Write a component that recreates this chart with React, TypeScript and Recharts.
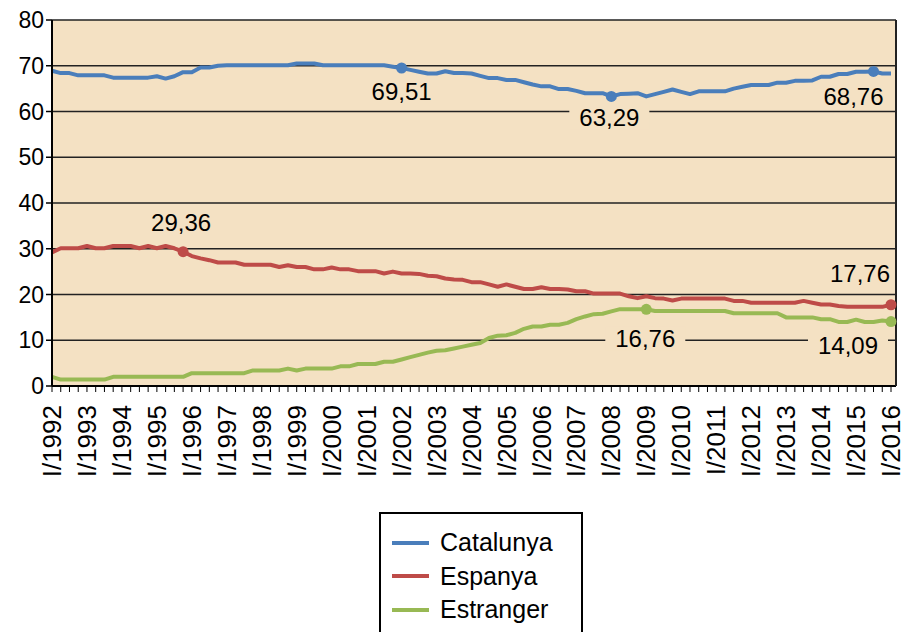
import React from 'react';
import { LineChart, Line, XAxis, YAxis, CartesianGrid, Legend } from 'recharts';

const FONT = '"Liberation Sans", Arial, sans-serif';
const PLOT_BG = '#F4E1C3';

// quarterly series, I/1992 .. I/2016
const years = [
  1992, 1993, 1994, 1995, 1996, 1997, 1998, 1999, 2000, 2001, 2002, 2003,
  2004, 2005, 2006, 2007, 2008, 2009, 2010, 2011, 2012, 2013, 2014, 2015, 2016,
];
const quarterNames = ['I', 'II', 'III', 'IV'];

const catalunya = [
  68.9, 68.4, 68.4, 67.9, 67.9, 67.9, 67.9, 67.4,
  67.4, 67.4, 67.4, 67.4, 67.7, 67.2, 67.7, 68.6,
  68.6, 69.6, 69.6, 70.0, 70.1, 70.1, 70.1, 70.1,
  70.1, 70.1, 70.1, 70.1, 70.5, 70.5, 70.5, 70.1,
  70.1, 70.1, 70.1, 70.1, 70.1, 70.1, 70.1, 69.8,
  69.51, 69.1, 68.7, 68.3, 68.3, 68.8, 68.4, 68.4,
  68.3, 67.8, 67.3, 67.3, 66.9, 66.9, 66.4, 65.9,
  65.5, 65.5, 64.9, 64.9, 64.5, 64.0, 64.0, 64.0,
  63.29, 63.8, 63.9, 64.0, 63.3, 63.8, 64.3, 64.8,
  64.3, 63.8, 64.4, 64.4, 64.4, 64.4, 65.0, 65.4,
  65.8, 65.8, 65.8, 66.3, 66.3, 66.7, 66.7, 66.8,
  67.6, 67.6, 68.2, 68.2, 68.7, 68.7, 68.76, 68.3,
  68.3,
];

const espanya = [
  29.2, 30.1, 30.1, 30.1, 30.6, 30.1, 30.1, 30.6,
  30.6, 30.6, 30.1, 30.6, 30.1, 30.6, 30.1, 29.36,
  28.4, 27.9, 27.5, 27.0, 27.0, 27.0, 26.5, 26.5,
  26.5, 26.5, 26.0, 26.4, 26.0, 26.0, 25.5, 25.5,
  25.9, 25.5, 25.5, 25.1, 25.1, 25.1, 24.6, 25.0,
  24.6, 24.6, 24.5, 24.1, 24.0, 23.5, 23.3, 23.2,
  22.7, 22.7, 22.2, 21.7, 22.2, 21.7, 21.2, 21.2,
  21.6, 21.2, 21.2, 21.1, 20.7, 20.7, 20.2, 20.2,
  20.2, 20.2, 19.6, 19.2, 19.6, 19.2, 19.1, 18.7,
  19.1, 19.1, 19.1, 19.1, 19.1, 19.1, 18.6, 18.6,
  18.2, 18.2, 18.2, 18.2, 18.2, 18.2, 18.6, 18.2,
  17.8, 17.8, 17.5, 17.3, 17.3, 17.3, 17.3, 17.3,
  17.76,
];

const estranger = [
  2.0, 1.4, 1.4, 1.4, 1.4, 1.4, 1.4, 2.0,
  2.0, 2.0, 2.0, 2.0, 2.0, 2.0, 2.0, 2.0,
  2.8, 2.8, 2.8, 2.8, 2.8, 2.8, 2.8, 3.4,
  3.4, 3.4, 3.4, 3.8, 3.4, 3.8, 3.8, 3.8,
  3.8, 4.3, 4.3, 4.8, 4.8, 4.8, 5.3, 5.3,
  5.8, 6.3, 6.8, 7.3, 7.7, 7.8, 8.2, 8.6,
  9.0, 9.4, 10.5, 11.0, 11.1, 11.6, 12.5, 13.0,
  13.0, 13.4, 13.4, 13.8, 14.6, 15.2, 15.7, 15.8,
  16.3, 16.8, 16.8, 16.8, 16.76, 16.4, 16.4, 16.4,
  16.4, 16.4, 16.4, 16.4, 16.4, 16.4, 15.9, 15.9,
  15.9, 15.9, 15.9, 15.9, 15.0, 15.0, 15.0, 15.0,
  14.6, 14.6, 14.0, 14.0, 14.5, 14.0, 14.0, 14.3,
  14.09,
];

const yTicks = [0, 10, 20, 30, 40, 50, 60, 70, 80];

const SERIES = [
  { key: 'Catalunya', values: catalunya, color: '#4A7EBB' },
  { key: 'Espanya', values: espanya, color: '#BE4B48' },
  { key: 'Estranger', values: estranger, color: '#98B954' },
];

// which points get a dot + value label, and where the label sits
const ANNOTATIONS: Record<string, { index: number; dx: number; dy: number; bg?: boolean }[]> = {
  Catalunya: [
    { index: 40, dx: 0, dy: 24 },
    { index: 64, dx: -2, dy: 21, bg: true },
    { index: 94, dx: -20, dy: 25 },
  ],
  Espanya: [
    { index: 15, dx: -2, dy: -29 },
    { index: 96, dx: -31, dy: -31 },
  ],
  Estranger: [
    { index: 68, dx: -1, dy: 29, bg: true },
    { index: 96, dx: -43, dy: 24, bg: true },
  ],
};

const quarters: string[] = [];
years.forEach((y) => {
  quarterNames.forEach((q) => {
    if (y < 2016 || q === 'I') quarters.push(`${q}/${y}`);
  });
});

const data = quarters.map((q, i) => {
  const row: any = { quarter: q };
  SERIES.forEach((s) => {
    row[s.key] = s.values[i];
  });
  return row;
});

const fmt = (v: number) => v.toFixed(2).replace('.', ',');

const QuarterTick = (props: any) => {
  const { x, y, payload } = props;
  if (payload.index % 4 !== 0) return <g />;
  return (
    <text
      transform={`translate(${x},${y + 13}) rotate(-90)`}
      textAnchor="end"
      dy="0.35em"
      fontSize={26}
      fontFamily={FONT}
      fill="#000"
    >
      {payload.value}
    </text>
  );
};

const makeDot = (name: string, color: string) => (props: any) => {
  const { cx, cy, index, key } = props;
  const hit = ANNOTATIONS[name].some((a) => a.index === index);
  if (!hit) return <g key={key} />;
  return <circle key={key} cx={cx} cy={cy} r={5.5} fill={color} stroke="none" />;
};

const makeLabel = (name: string) => (props: any) => {
  const { x, y, value, index } = props;
  const a = ANNOTATIONS[name].find((n) => n.index === index);
  if (!a || value == null) return <g key={`l-${name}-${index}`} />;
  const cx = x + a.dx;
  const cy = y + a.dy;
  return (
    <g key={`l-${name}-${index}`}>
      {a.bg && <rect x={cx - 40} y={cy - 12} width={80} height={24} fill={PLOT_BG} />}
      <text
        x={cx}
        y={cy}
        dy="0.35em"
        textAnchor="middle"
        fontSize={24}
        fontFamily={FONT}
        fill="#000"
      >
        {fmt(value)}
      </text>
    </g>
  );
};

const LegendBox = () => (
  <div
    style={{
      width: 204,
      height: 130,
      boxSizing: 'border-box',
      border: '2px solid #000',
      background: '#fff',
      paddingTop: 12,
      fontFamily: FONT,
      fontSize: 25,
      color: '#000',
    }}
  >
    {SERIES.map((s) => (
      <div key={s.key} style={{ display: 'flex', alignItems: 'center', height: 33.5 }}>
        <span
          style={{
            display: 'inline-block',
            width: 37,
            height: 4,
            background: s.color,
            marginLeft: 11,
            marginRight: 11,
          }}
        />
        <span style={{ lineHeight: '33px' }}>{s.key}</span>
      </div>
    ))}
  </div>
);

export default function App() {
  return (
    <div style={{ position: 'absolute', left: 0, top: 0, width: 903, height: 632, background: '#fff' }}>
      <LineChart
        width={903}
        height={632}
        data={data}
        margin={{ top: 20, right: 0, left: 0, bottom: 0 }}
      >
        <CartesianGrid
          vertical={false}
          stroke="#222"
          strokeWidth={1.5}
          fill={PLOT_BG}
          fillOpacity={1}
        />
        <XAxis
          dataKey="quarter"
          interval={0}
          height={246}
          tickSize={6}
          tickMargin={0}
          padding={{ left: 0, right: 5 }}
          axisLine={{ stroke: '#000', strokeWidth: 2 }}
          tickLine={{ stroke: '#000', strokeWidth: 1 }}
          tick={<QuarterTick />}
        />
        <YAxis
          width={52}
          domain={[0, 80]}
          ticks={yTicks}
          interval={0}
          tickSize={6}
          axisLine={{ stroke: '#000', strokeWidth: 2 }}
          tickLine={{ stroke: '#000', strokeWidth: 1.5 }}
          tick={{ fill: '#000', fontSize: 23, fontFamily: FONT }}
        />
        <YAxis
          yAxisId="frame"
          orientation="right"
          width={7}
          domain={[0, 80]}
          tick={false}
          tickLine={false}
          axisLine={{ stroke: '#222', strokeWidth: 2 }}
        />
        <Legend
          layout="vertical"
          align="center"
          verticalAlign="middle"
          wrapperStyle={{ left: 379, top: 512, width: 204, height: 130 }}
          content={() => <LegendBox />}
        />
        {SERIES.map((s) => (
          <Line
            key={s.key}
            type="linear"
            dataKey={s.key}
            stroke={s.color}
            strokeWidth={4}
            strokeLinejoin="round"
            dot={makeDot(s.key, s.color)}
            activeDot={false}
            label={makeLabel(s.key)}
            isAnimationActive={false}
          />
        ))}
      </LineChart>
    </div>
  );
}
